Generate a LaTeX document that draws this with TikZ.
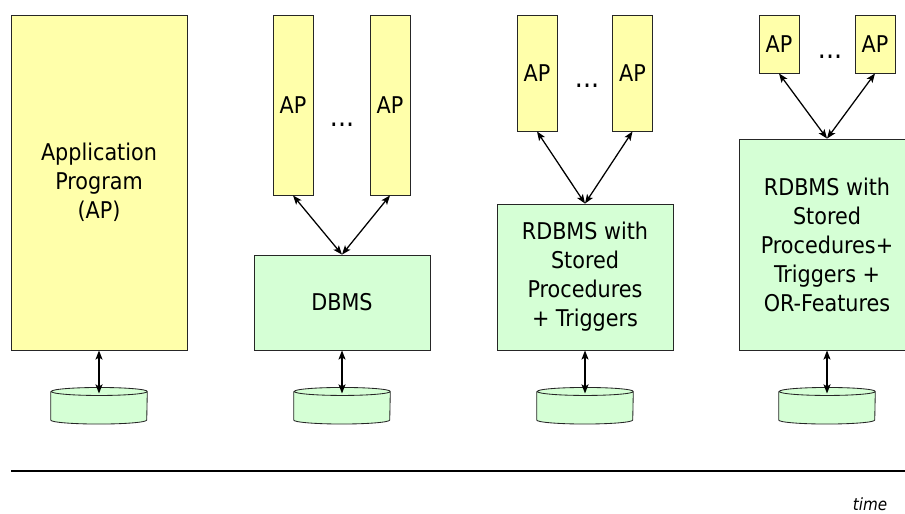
\documentclass[tikz,border=0pt]{standalone}
\usepackage{xcolor}
\usepackage{fontspec}
\setmainfont{DejaVu Sans Condensed}
\usepackage{tikz}
\usetikzlibrary{arrows.meta, positioning, calc}

\definecolor{apyellow}{HTML}{FFFFAA}
\definecolor{dbgreen}{HTML}{D5FFD5}

\begin{document}
\begin{tikzpicture}[
    x=0.025cm, y=-0.025cm,
    every node/.style={font=\fontsize{16.4pt}{20.6pt}\selectfont},
    apbox/.style={rectangle, draw=black!85, line width=0.6pt, fill=apyellow, inner sep=0pt, minimum width=1cm, align=center},
    dbbox/.style={rectangle, draw=black!85, line width=0.6pt, fill=dbgreen, inner sep=0pt, minimum width=4.4cm, align=center},
    store/.style={rectangle, inner sep=0pt, minimum width=2.4cm, minimum height=0.9cm},
    drum/.style={draw=black!85, line width=0.6pt, fill=dbgreen},
    more/.style={inner sep=0pt, font=\fontsize{20pt}{20pt}\selectfont},
    link/.style={{Stealth[length=6.5pt,width=5pt,inset=1.5pt]}-{Stealth[length=6.5pt,width=5pt,inset=1.5pt]}, line width=0.9pt}
    ]
    \useasboundingbox (0,0) rectangle (905,513);

    % one program with its own data
    \node[apbox, minimum width=4.4cm, minimum height=8.375cm] (app) at (99,182.5) {Application\\Program\\(AP)};
    \node[store, below=0.925cm of app] (db1) {};

    % DBMS
    \node[apbox, minimum height=4.5cm] (ap2a) at (293,105) {AP};
    \node[apbox, minimum height=4.5cm] (ap2b) at (390,105) {AP};
    \node[more] (dots2) at (342,125) {...};
    \node[dbbox, minimum height=2.375cm] (dbms) at (342,302.5) {DBMS};
    \node[store, below=0.925cm of dbms] (db2) {};

    % RDBMS with stored procedures
    \node[apbox, minimum height=2.9cm] (ap3a) at (537,73) {AP};
    \node[apbox, minimum height=2.9cm] (ap3b) at (632.5,73) {AP};
    \node[more] (dots3) at (587,86) {...};
    \node[dbbox, minimum height=3.65cm] (rdb3) at (585,277) {RDBMS with\\Stored\\Procedures\\+ Triggers};
    \node[store, below=0.925cm of rdb3] (db3) {};

    % object-relational features
    \node[apbox, minimum height=1.45cm] (ap4a) at (779,44) {AP};
    \node[apbox, minimum height=1.45cm] (ap4b) at (875,44) {AP};
    \node[more] (dots4) at (830,57) {...};
    \node[dbbox, minimum height=5.275cm] (rdb4) at (827,244.5) {RDBMS with\\Stored\\Procedures+\\Triggers +\\OR-Features};
    \node[store, below=0.925cm of rdb4] (db4) {};

    % database drums
    \foreach \d in {db1, db2, db3, db4}
      \draw[drum] ([yshift=-0.1cm]\d.north west) -- ([yshift=0.1cm]\d.south west)
        arc[start angle=180, end angle=360, x radius=1.2cm, y radius=0.1cm]
        -- ([yshift=-0.1cm]\d.north east)
        arc[start angle=0, end angle=360, x radius=1.2cm, y radius=0.1cm];

    \draw[link] (app.south) -- ([yshift=-0.15cm]db1.north);
    \draw[link] (dbms.south) -- ([yshift=-0.15cm]db2.north);
    \draw[link] (rdb3.south) -- ([yshift=-0.15cm]db3.north);
    \draw[link] (rdb4.south) -- ([yshift=-0.15cm]db4.north);
    \foreach \a/\b in {ap2a/dbms, ap2b/dbms, ap3a/rdb3, ap3b/rdb3, ap4a/rdb4, ap4b/rdb4}
      \draw[link] (\a.south) -- (\b.north);

    % time axis
    \coordinate (t0) at (11,471);
    \coordinate (t1) at (910,471);
    \draw[line width=0.9pt] (t0) -- (t1);
    \node[inner sep=0pt, anchor=base, font=\fontsize{12pt}{14pt}\selectfont\itshape] (time) at (870,510) {time};
  \end{tikzpicture}
\end{document}
